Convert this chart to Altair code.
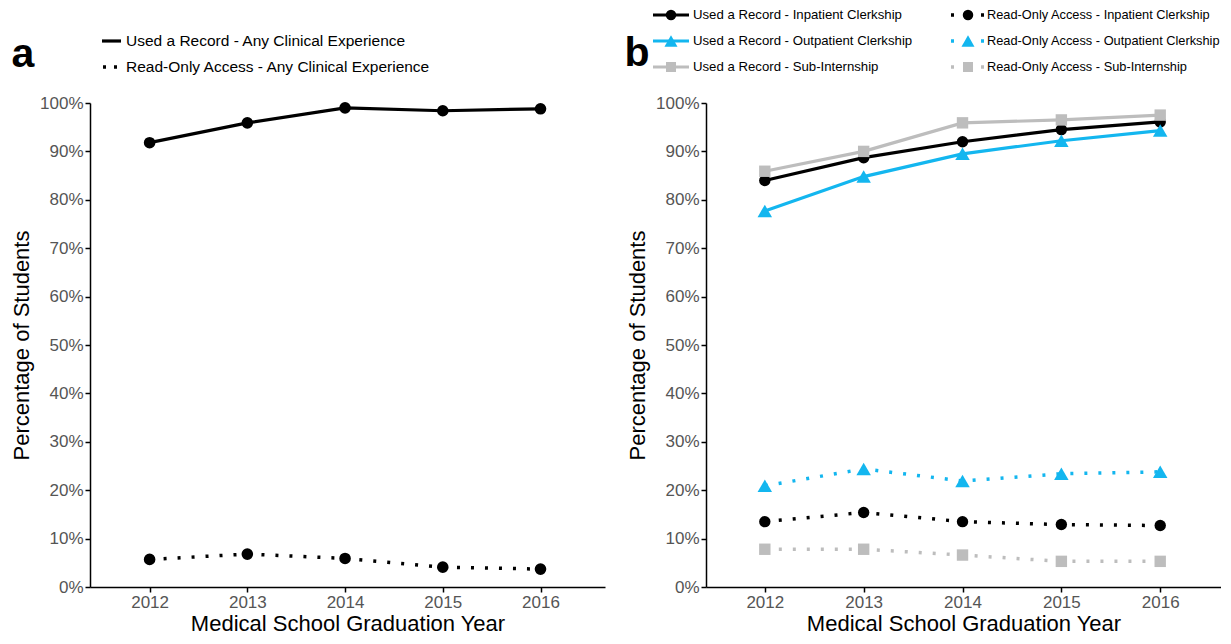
import altair as alt
import pandas as pd

FONT = "Liberation Sans"

years = [2012, 2013, 2014, 2015, 2016]

# Panel a
a_used_any = [91.8, 95.9, 99.0, 98.4, 98.8]
a_read_any = [5.7, 6.8, 5.9, 4.1, 3.7]

# Panel b
b_used_in = [84.0, 88.7, 92.0, 94.5, 96.1]
b_used_out = [77.7, 84.8, 89.5, 92.2, 94.3]
b_used_sub = [85.9, 90.0, 95.9, 96.5, 97.5]
b_read_in = [13.5, 15.4, 13.5, 12.9, 12.7]
b_read_out = [20.9, 24.4, 21.9, 23.4, 23.8]
b_read_sub = [7.8, 7.8, 6.6, 5.3, 5.3]

labels_a = [
    "Used a Record - Any Clinical Experience",
    "Read-Only Access - Any Clinical Experience",
]
labels_b_used = [
    "Used a Record - Inpatient Clerkship",
    "Used a Record - Outpatient Clerkship",
    "Used a Record - Sub-Internship",
]
labels_b_read = [
    "Read-Only Access - Inpatient Clerkship",
    "Read-Only Access - Outpatient Clerkship",
    "Read-Only Access - Sub-Internship",
]

BLACK = "#000000"
BLUE = "#13B6EF"
GRAY = "#BDBDBD"
DOT = [3, 11]

W, H = 515, 484
one = pd.DataFrame({"k": [0]})

y_axis = alt.Axis(
    values=list(range(0, 101, 10)),
    labelExpr="datum.value + '%'",
    title="Percentage of Students",
    titlePadding=6,
)
x_axis = alt.Axis(values=years, format="d", title="Medical School Graduation Year",
                  labelFlush=False, titlePadding=3, labelPadding=2)


def series(vals, color, shape, size, dashed, domain):
    d = pd.DataFrame({"year": years, "pct": vals})
    x = alt.X("year:Q", scale=alt.Scale(domain=domain, nice=False, zero=False), axis=x_axis)
    y = alt.Y("pct:Q", scale=alt.Scale(domain=[0, 100], nice=False), axis=y_axis)
    lk = dict(color=color, strokeWidth=3.2 if not dashed else 3.5)
    if dashed:
        lk["strokeDash"] = DOT
        lk["strokeCap"] = "butt"
    line = alt.Chart(d).mark_line(**lk).encode(x=x, y=y)
    pts = alt.Chart(d).mark_point(filled=True, shape=shape, size=size, color=color,
                                   opacity=1, strokeWidth=0).encode(x=x, y=y)
    return [line, pts]


def lrule(x1, x2, y, color, dashed, dash=None):
    kw = dict(color=color, strokeWidth=3.5 if dashed else 3.2)
    if dashed:
        kw["strokeDash"] = dash
        kw["strokeCap"] = "butt"
    return alt.Chart(one).mark_rule(**kw).encode(
        x=alt.value(x1), x2=alt.value(x2), y=alt.value(y))


def lpoint(x, y, shape, color, size):
    return alt.Chart(one).mark_point(filled=True, shape=shape, size=size, color=color,
                                     opacity=1, strokeWidth=0).encode(
        x=alt.value(x), y=alt.value(y))


def ltext(x, y, txt, size, bold=False, align="left", baseline="middle"):
    return alt.Chart(one).mark_text(
        text=txt, font=FONT, fontSize=size, align=align, baseline=baseline,
        fontWeight="bold" if bold else "normal", color="black").encode(
        x=alt.value(x), y=alt.value(y))


# ---- Panel a
dom_a = [2011.39, 2016.66]
layers_a = []
layers_a += series(a_used_any, BLACK, "circle", 135, False, dom_a)
layers_a += series(a_read_any, BLACK, "circle", 135, True, dom_a)
layers_a += [
    lrule(12, 31, -62, BLACK, False),
    ltext(36, -62, labels_a[0], 15.5),
    lrule(13, 27, -36, BLACK, True, [3, 8]),
    ltext(36, -36, labels_a[1], 15.5),
    ltext(-67, -36, "a", 41, bold=True, align="center", baseline="alphabetic"),
]
panel_a = alt.layer(*layers_a).properties(width=W, height=H)

# ---- Panel b
dom_b = [2011.405, 2016.615]
layers_b = []
layers_b += series(b_used_in, BLACK, "circle", 130, False, dom_b)
layers_b += series(b_used_out, BLUE, "triangle-up", 210, False, dom_b)
layers_b += series(b_used_sub, GRAY, "square", 130, False, dom_b)
layers_b += series(b_read_out, BLUE, "triangle-up", 210, True, dom_b)
layers_b += series(b_read_in, BLACK, "circle", 130, True, dom_b)
layers_b += series(b_read_sub, GRAY, "square", 130, True, dom_b)

rows = [-88, -62, -36]
cols = [BLACK, BLUE, GRAY]
shapes = ["circle", "triangle-up", "square"]
sizes = [110, 170, 100]
for i in range(3):
    layers_b += [
        lrule(-53, -17, rows[i], cols[i], False),
        lpoint(-35, rows[i], shapes[i], cols[i], sizes[i]),
        ltext(-13, rows[i], labels_b_used[i], 13.2),
        lrule(245, 279, rows[i], cols[i], True, [3, 12]),
        lpoint(262, rows[i], shapes[i], cols[i], sizes[i]),
        ltext(281, rows[i], labels_b_read[i], 12.8),
    ]
layers_b.append(ltext(-69, -37, "b", 41, bold=True, align="center", baseline="alphabetic"))
panel_b = alt.layer(*layers_b).properties(width=W, height=H)

chart = (
    alt.hconcat(panel_a, panel_b, spacing=19)
    .properties(padding={"left": 2, "top": 0, "right": 0, "bottom": 0}, background="white")
    .configure_view(stroke=None)
    .configure_axis(
        grid=False,
        domainColor="black",
        domainWidth=1.5,
        tickColor="black",
        tickWidth=1.5,
        tickSize=5,
        labelFont=FONT,
        labelFontSize=17,
        labelColor="#555555",
        titleFont=FONT,
        titleFontSize=22,
        titleFontWeight="normal",
        titleColor="black",
    )
)

chart.save("out.html", embed_options={"renderer": "svg", "actions": False})
